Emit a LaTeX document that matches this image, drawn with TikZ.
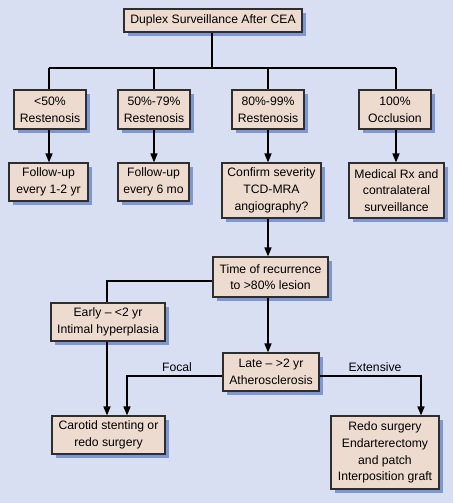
\documentclass[tikz,border=0pt]{standalone}
\usepackage{fontspec}
\setmainfont{Liberation Sans}
\usetikzlibrary{arrows.meta,shadows}
\definecolor{bg}{HTML}{D9DFF2}
\definecolor{boxfill}{HTML}{EDDBD0}
\definecolor{shade}{HTML}{7F97D0}
\definecolor{edge}{HTML}{2E2E2E}
\tikzset{
  box/.style={draw=edge, line width=1.1pt, fill=boxfill, align=center, inner sep=0pt,
    font=\fontsize{12.2}{16.7}\selectfont,
    drop shadow={shadow xshift=4pt, shadow yshift=-4pt, fill=shade, opacity=1}},
  conn/.style={line width=1.5pt, draw=black},
  arr/.style={conn, -{Triangle[length=9pt,width=7pt]}},
  lbl/.style={font=\fontsize{12.2}{14}\selectfont, inner sep=0pt}
}
\begin{document}
\begin{tikzpicture}[x=1pt,y=-1pt]
\fill[bg] (0,0) rectangle (453,503);
\useasboundingbox (0,0) rectangle (453,503);
\node[box, minimum width=178pt, minimum height=23pt] (top) at (213,20.5) {Duplex Surveillance After CEA};
\node[box, minimum width=72pt, minimum height=39pt] (r1) at (50,109.5) {<50\%\\Restenosis};
\node[box, minimum width=72pt, minimum height=39pt] (r2) at (154,109.5) {50\%-79\%\\Restenosis};
\node[box, minimum width=72pt, minimum height=39pt] (r3) at (268,109.5) {80\%-99\%\\Restenosis};
\node[box, minimum width=72pt, minimum height=39pt] (r4) at (395,109.5) {100\%\\Occlusion};
\node[box, minimum width=79pt, minimum height=38pt] (f1) at (48.5,182) {Follow-up\\every 1-2 yr};
\node[box, minimum width=71pt, minimum height=38pt] (f2) at (153.5,182) {Follow-up\\every 6 mo};
\node[box, minimum width=99pt, minimum height=55pt] (f3) at (271.5,190.5) {Confirm severity\\TCD-MRA\\angiography?};
\node[box, minimum width=95pt, minimum height=55pt] (f4) at (396.5,190.5) {Medical Rx and\\contralateral\\surveillance};
\node[box, minimum width=115pt, minimum height=40pt] (time) at (270.5,277) {Time of recurrence\\to >80\% lesion};
\node[box, minimum width=114pt, minimum height=38pt] (early) at (108,322) {Early -- <2 yr\\Intimal hyperplasia};
\node[box, minimum width=96pt, minimum height=38pt] (late) at (271,372) {Late -- >2 yr\\Atherosclerosis};
\node[box, minimum width=113pt, minimum height=38pt] (carotid) at (108.5,435) {Carotid stenting or\\redo surgery};
\node[box, minimum width=108pt, minimum height=73pt] (redo) at (385,452.5) {Redo surgery\\Endarterectomy\\and patch\\Interposition graft};
\coordinate (b1) at (49,68);
\coordinate (b2) at (154,68);
\coordinate (b3) at (268,68);
\coordinate (b4) at (396,68);
\draw[conn] (top.south -| 212,0) -- (212,68);
\draw[conn] (b1) -- (b4);
\draw[conn] (b1) -- (b1 |- r1.north);
\draw[conn] (b2) -- (b2 |- r2.north);
\draw[conn] (b3) -- (b3 |- r3.north);
\draw[conn] (b4) -- (b4 |- r4.north);
\draw[arr] (b1 |- r1.south) -- (b1 |- f1.north);
\draw[arr] (b2 |- r2.south) -- (b2 |- f2.north);
\draw[arr] (b3 |- r3.south) -- (b3 |- f3.north);
\draw[arr] (b4 |- r4.south) -- (b4 |- f4.north);
\draw[arr] (b3 |- f3.south) -- (b3 |- time.north);
\coordinate (ex) at (107,0);
\draw[conn] (time.west |- 0,281) -- (ex |- 0,281) -- (ex |- early.north);
\draw[arr] (b3 |- time.south) -- (b3 |- late.north);
\draw[arr] (ex |- early.south) -- (ex |- carotid.north);
\coordinate (fx) at (127,376);
\coordinate (xx) at (421,376);
\draw[arr] (late.west |- fx) -- (fx) -- (fx |- carotid.north);
\draw[arr] (late.east |- xx) -- (xx) -- (xx |- redo.north);
\node[lbl] (focal) at (177,367) {Focal};
\node[lbl] (ext) at (375,367) {Extensive};
\end{tikzpicture}
\end{document}
